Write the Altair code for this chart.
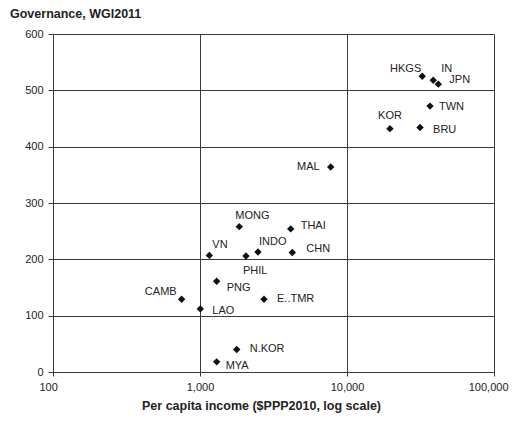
import altair as alt
import pandas as pd

countries = ["HKGS", "IN", "JPN", "TWN", "KOR", "BRU", "MAL", "MONG", "THAI", "VN",
             "INDO", "CHN", "PHIL", "PNG", "CAMB", "E..TMR", "LAO", "N.KOR", "MYA"]
income = [32500, 38600, 41800, 36700, 19600, 31400, 7750, 1850, 4140, 1157,
          2480, 4245, 2055, 1298, 750, 2725, 1005, 1777, 1298]
governance = [525, 518, 511, 472, 432, 434, 364, 258, 254, 207,
              213, 212, 206, 161, 129, 129, 112, 40, 18]

x_ticks = [100, 1000, 10000, 100000]
y_ticks = [0, 100, 200, 300, 400, 500, 600]

df = pd.DataFrame({"country": countries, "income": income, "gov": governance})

FONT = "Liberation Sans"
INK = "#222222"
GRID = "#3a3a3a"

# label placement (align, dx, dy) relative to each marker
label_place = {
    "HKGS": ("right", -1, -7), "IN": ("left", 8, -11), "JPN": ("left", 11, -4),
    "TWN": ("left", 9, 1), "KOR": ("center", 0, -13), "BRU": ("left", 13, 2),
    "MAL": ("right", -11, 0), "MONG": ("left", -4, -11), "THAI": ("left", 10, -3),
    "VN": ("left", 3, -10), "INDO": ("left", 1, -10), "CHN": ("left", 14, -4),
    "PHIL": ("left", -3, 15), "PNG": ("left", 10, 7), "CAMB": ("right", -5, -7),
    "E..TMR": ("left", 13, 0), "LAO": ("left", 12, 2), "N.KOR": ("left", 13, 0),
    "MYA": ("left", 9, 4),
}

xs = alt.X("income:Q", scale=alt.Scale(type="log", domain=[100, 100000]),
           axis=alt.Axis(values=x_ticks, format=",", title="Per capita income ($PPP2010, log scale)",
                         grid=True, gridColor=GRID, gridOpacity=1, gridWidth=1,
                         domainColor=GRID, tickColor=GRID, tickSize=4,
                         labelFont=FONT, labelFontSize=11, labelColor=INK, labelPadding=5,
                         titleFont=FONT, titleFontSize=12.5, titleFontWeight="bold",
                         titleColor=INK, titlePadding=7, labelFlush=True, labelFlushOffset=14,
                         titleX=208, titleAlign="center"))
ys = alt.Y("gov:Q", scale=alt.Scale(domain=[0, 600]),
           axis=alt.Axis(values=y_ticks, title=None, grid=True, gridColor=GRID,
                         gridOpacity=1, gridWidth=1, domainColor=GRID, tickColor=GRID,
                         tickSize=5, labelFont=FONT, labelFontSize=11, labelColor=INK,
                         labelPadding=5))

base = alt.Chart(df)
points = base.mark_point(shape="diamond", filled=True, color="#111111", size=55, opacity=1).encode(x=xs, y=ys)

layers = [points]
for c in countries:
    al, dx, dy = label_place[c]
    layers.append(
        base.transform_filter(alt.datum.country == c)
        .mark_text(align=al, baseline="middle", dx=dx, dy=dy, font=FONT, fontSize=11, color=INK)
        .encode(x=xs, y=ys, text="country:N")
    )

chart = alt.layer(*layers).properties(
    width=441, height=338,
    title=alt.TitleParams("Governance, WGI2011", anchor="start", frame="group", dx=-43, offset=8,
                          font=FONT, fontSize=12.5, fontWeight="bold", color=INK),
    autosize=alt.AutoSizeParams(type="none"),
    padding={"left": 45, "top": 26, "right": 15, "bottom": 43},
).configure_view(stroke=GRID, strokeWidth=1).configure(background="white")

chart.save("out.html", embed_options={"renderer": "svg", "actions": False})
